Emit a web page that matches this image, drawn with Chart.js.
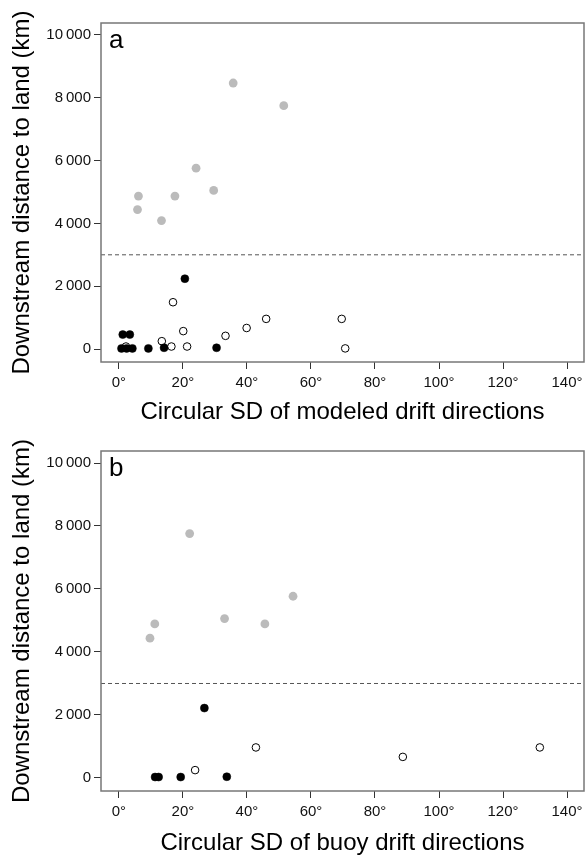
<!DOCTYPE html>
<html>
<head>
<meta charset="utf-8">
<script src="https://cdn.jsdelivr.net/npm/chart.js@4.4.1/dist/chart.umd.min.js"></script>
<style>
  html, body { margin: 0; padding: 0; background: #fff; }
  .panel { position: absolute; left: 0; width: 585px; }
</style>
</head>
<body>
<div class="panel" style="top:0;height:430px"><canvas id="chartA"></canvas></div>
<div class="panel" style="top:430px;height:431px"><canvas id="chartB"></canvas></div>
<script>
// axis setup
const xTicks = [0, 20, 40, 60, 80, 100, 120, 140];
const yTicks = [0, 2000, 4000, 6000, 8000, 10000];
const xMin = -5.6, xMax = 145.3;
const yMin = -413, yMax = 10381;
const cutoff = 3000;

// panel a: modeled drift
const aGrayX = [35.7, 51.5, 24.1, 29.6, 6.1, 17.5, 5.8, 13.3];
const aGrayY = [8470, 7750, 5760, 5050, 4870, 4870, 4440, 4090];
const aBlackX = [20.6, 1.2, 3.4, 0.8, 2.4, 4.2, 9.2, 14.1, 30.5];
const aBlackY = [2240, 460, 460, 20, 20, 20, 20, 40, 40];
const aOpenX = [16.9, 46.0, 69.6, 39.9, 20.1, 33.3, 13.4, 16.4, 21.3, 70.7, 2.2];
const aOpenY = [1490, 960, 960, 670, 570, 420, 250, 80, 80, 20, 80];

// panel b: buoy drift
const bGrayX = [22.1, 54.4, 33.0, 45.6, 11.2, 9.7];
const bGrayY = [7760, 5770, 5060, 4890, 4890, 4440];
const bBlackX = [26.7, 11.3, 12.4, 19.3, 33.7];
const bBlackY = [2220, 30, 30, 30, 40];
const bOpenX = [42.8, 131.5, 88.7, 23.8];
const bOpenY = [970, 970, 670, 250];

const FONT = "'Liberation Sans', Arial, Helvetica, sans-serif";

function pts(xs, ys) {
  return xs.map((x, i) => ({ x: x, y: ys[i] }));
}

function fmtKm(v) {
  return v === 0 ? "0" : String(v).replace(/(\d)(\d{3})$/, "$1\u2009$2");
}

// frame box + panel letter
const framePlugin = {
  id: "frame",
  afterDraw(chart, args, opts) {
    const { ctx, chartArea: a } = chart;
    ctx.save();
    ctx.strokeStyle = "#777";
    ctx.lineWidth = 1.5;
    ctx.strokeRect(a.left, a.top, a.right - a.left, a.bottom - a.top);
    ctx.fillStyle = "#000";
    ctx.font = "26px " + FONT;
    ctx.textBaseline = "alphabetic";
    ctx.fillText(opts.letter, a.left + 8, a.top + 25);
    ctx.restore();
  },
};

function makePanel(id, letter, gray, black, open, xTitle, padTop, axisH) {
  new Chart(document.getElementById(id), {
    type: "scatter",
    data: {
      datasets: [
        {
          data: black,
          pointRadius: 4,
          backgroundColor: "#000",
          borderColor: "#000",
          borderWidth: 0.5,
        },
        {
          data: open,
          pointRadius: 3.8,
          backgroundColor: "#fff",
          borderColor: "#000",
          borderWidth: 1,
        },
        {
          data: gray,
          pointRadius: 4.4,
          backgroundColor: "#bbbbbb",
          borderColor: "#bbbbbb",
          borderWidth: 0,
        },
        {
          type: "line",
          data: [{ x: xMin, y: cutoff }, { x: xMax, y: cutoff }],
          borderColor: "#555",
          borderWidth: 1,
          borderDash: [4, 3],
          pointRadius: 0,
        },
      ],
    },
    options: {
      responsive: true,
      maintainAspectRatio: false,
      animation: false,
      layout: { autoPadding: false, padding: { top: padTop, right: 1, left: 0, bottom: 0 } },
      plugins: {
        legend: { display: false },
        tooltip: { enabled: false },
        frame: { letter: letter },
      },
      scales: {
        x: {
          type: "linear",
          min: xMin,
          max: xMax,
          afterBuildTicks: (s) => { s.ticks = xTicks.map((v) => ({ value: v })); },
          afterFit: (s) => { s.height = axisH; s.paddingLeft = 0; s.paddingRight = 0; },
          grid: { drawOnChartArea: false, tickLength: 7, color: "#333" },
          border: { display: false },
          ticks: {
            font: { family: FONT, size: 15 },
            color: "#111",
            padding: 5,
            maxRotation: 0,
            callback: (v) => v + "°",
          },
          title: {
            display: true,
            text: xTitle,
            font: { family: FONT, size: 24 },
            color: "#000",
            padding: { bottom: 3 },
          },
        },
        y: {
          type: "linear",
          min: yMin,
          max: yMax,
          afterBuildTicks: (s) => { s.ticks = yTicks.map((v) => ({ value: v })); },
          afterFit: (s) => { s.width = 101; s.paddingTop = 0; s.paddingBottom = 0; },
          grid: { drawOnChartArea: false, tickLength: 7, color: "#333" },
          border: { display: false },
          ticks: {
            font: { family: FONT, size: 15 },
            color: "#111",
            padding: 3,
            callback: (v) => fmtKm(v),
          },
          title: {
            display: true,
            text: "Downstream distance to land (km)",
            font: { family: FONT, size: 24 },
            color: "#000",
            padding: { top: 8 },
          },
        },
      },
    },
    plugins: [framePlugin],
  });
}

makePanel("chartA", "a", pts(aGrayX, aGrayY), pts(aBlackX, aBlackY), pts(aOpenX, aOpenY),
  "Circular SD of modeled drift directions", 23, 68);
makePanel("chartB", "b", pts(bGrayX, bGrayY), pts(bBlackX, bBlackY), pts(bOpenX, bOpenY),
  "Circular SD of buoy drift directions", 21, 70);
</script>
</body>
</html>
